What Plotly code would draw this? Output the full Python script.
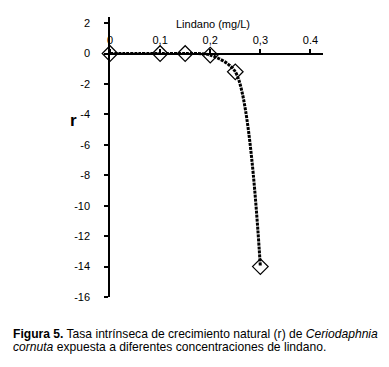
import plotly.graph_objects as go

lindano = [0, 0.1, 0.15, 0.2, 0.25, 0.3]
r_vals = [0, 0, 0, -0.1, -1.2, -14]

x_ticks = [0, 0.1, 0.2, 0.3, 0.4]
x_ticktext = ["0", "0,1", "0,2", "0,3", "0.4"]
y_ticks = [2, 0, -2, -4, -6, -8, -10, -12, -14, -16]
y_ticktext = ["2", "0", "-2", "-4", "-6", "-8", "-10", "-12", "-14", "-16"]

YMIN, YMAX = -16, 2.4
XMIN, XMAX = 0, 0.425

fig = go.Figure()
fig.add_trace(go.Scatter(
    x=lindano, y=r_vals, mode="lines+markers",
    line=dict(color="black", width=3, dash="3px,1px", shape="spline", smoothing=0.8),
    marker=dict(symbol="diamond-open", size=12, color="black", line=dict(width=1.2, color="black")),
    showlegend=False, cliponaxis=False,
))

# page body has an 8px default margin; figure sized to compensate
fig.update_layout(
    width=381, height=359,
    margin=dict(l=102, r=65.5, t=9, b=70, autoexpand=False),
    paper_bgcolor="white", plot_bgcolor="white",
    font=dict(family="Liberation Sans, Arial, sans-serif", size=11, color="black"),
    xaxis=dict(
        range=[XMIN, XMAX], tickvals=x_ticks, ticktext=x_ticktext,
        side="top", anchor="free", position=(0 - YMIN) / (YMAX - YMIN),
        showline=True, linecolor="black", linewidth=1.5,
        ticks="outside", ticklen=4, tickwidth=2, tickcolor="black",
        showgrid=False, zeroline=False, automargin=False,
    ),
    yaxis=dict(
        range=[YMIN, YMAX], tickvals=y_ticks, ticktext=y_ticktext,
        showline=True, linecolor="black", linewidth=1.5,
        ticks="outside", ticklen=4, tickwidth=2, tickcolor="black",
        ticklabelstandoff=12,
        showgrid=False, zeroline=False, automargin=False,
    ),
)

fig.add_annotation(x=0.2058, y=1.93, xref="x", yref="y", text="Lindano (mg/L)",
                   showarrow=False, font=dict(size=11))
fig.add_annotation(x=-0.197, y=-4.4, xref="paper", yref="y", text="<b>r</b>",
                   showarrow=False, font=dict(size=17))
fig.add_annotation(x=-0.465, y=-0.1321, xref="paper", yref="paper", xanchor="left", yanchor="middle",
                   align="left",
                   text="<b>Figura 5.</b> Tasa intrínseca de crecimiento natural (r) de <i>Ceriodaphnia</i>",
                   showarrow=False, font=dict(size=12.1))
fig.add_annotation(x=-0.465, y=-0.1786, xref="paper", yref="paper", xanchor="left", yanchor="middle",
                   align="left",
                   text="<i>cornuta</i> expuesta a diferentes concentraciones de lindano.",
                   showarrow=False, font=dict(size=12.1))

fig.write_html("out.html")
